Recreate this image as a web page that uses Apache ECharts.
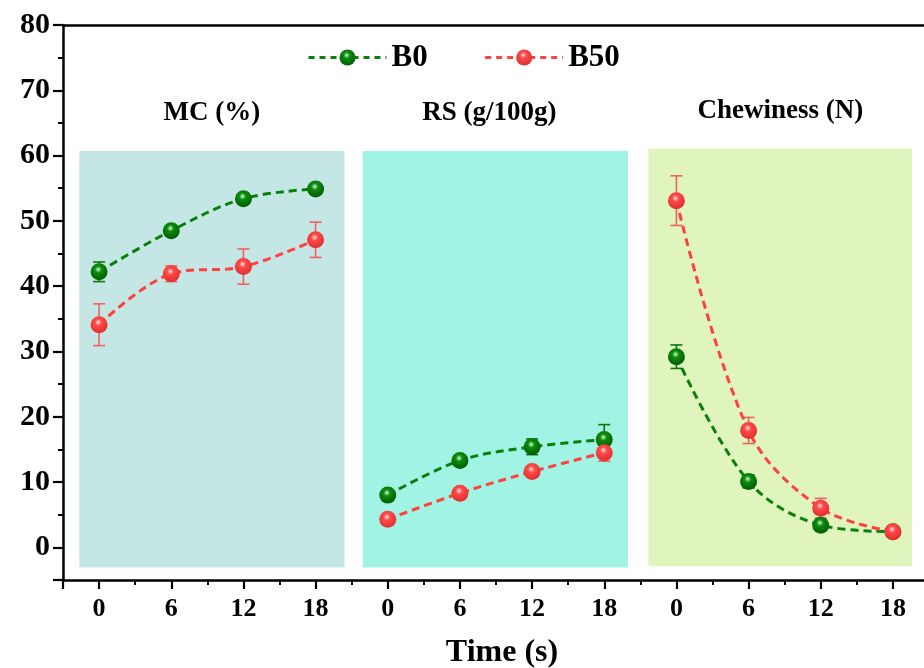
<!DOCTYPE html>
<html>
<head>
<meta charset="utf-8">
<script src="https://cdn.jsdelivr.net/npm/echarts@6/dist/echarts.min.js"></script>
<style>html,body{margin:0;padding:0;background:#fff}#main{width:924px;height:668px}</style>
</head>
<body>
<div id="main"></div>
<script>
// ---- data ----
const times = [0, 6, 12, 18];
const panelNames = ['MC (%)', 'RS (g/100g)', 'Chewiness (N)'];
const panelSpan = 24;
const groups = ['B0', 'B50'];

const b0MC = [42.2, 48.5, 53.4, 54.9];
const b0MCErr = [1.5, 0.6, 0.6, 0.8];
const b50MC = [34.1, 41.9, 43.0, 47.1];
const b50MCErr = [3.2, 1.2, 2.7, 2.7];

const b0RS = [8.0, 13.3, 15.4, 16.5];
const b0RSErr = [0.5, 0.6, 1.2, 2.3];
const b50RS = [4.3, 8.3, 11.6, 14.5];
const b50RSErr = [0.4, 0.5, 0.7, 1.3];

const b0Chew = [29.2, 10.1, 3.4, 2.4];
const b0ChewErr = [1.8, 1.0, 0.5, 0.3];
const b50Chew = [53.1, 17.9, 6.0, 2.4];
const b50ChewErr = [3.8, 2.0, 1.5, 0.4];

const yTicks = [0, 10, 20, 30, 40, 50, 60, 70, 80];

// ---- build ----
const FONT = '"Liberation Serif", "Times New Roman", serif';
const colors = {
  B0: { line: '#0a7f0a', bar: '#0b760b', light: '#d4f7d4', mid: '#0c8c0c', dark: '#035a03' },
  B50: { line: '#ff4040', bar: '#f0605e', light: '#ffe6e6', mid: '#ff4a4a', dark: '#e02c2c' }
};
const valuesByGroup = {
  B0: [[b0MC, b0MCErr], [b0RS, b0RSErr], [b0Chew, b0ChewErr]],
  B50: [[b50MC, b50MCErr], [b50RS, b50RSErr], [b50Chew, b50ChewErr]]
};
function sphere(c) {
  return {
    type: 'radial', x: 0.45, y: 0.36, r: 0.65,
    colorStops: [
      { offset: 0, color: c.light },
      { offset: 0.3, color: c.mid },
      { offset: 1, color: c.dark }
    ]
  };
}

const series = [];
// background panels
const panelColors = ['#c4e7e6', '#a1f4e4', '#e0f5be'];
const panelBox = [[-1.64, 20.4, 60.7, -3.1], [-2.08, 19.97, 60.7, -3.1], [-2.33, 19.6, 61.1, -2.9]];
series.push({
  type: 'line', data: [], silent: true, z: 0,
  markArea: {
    silent: true,
    data: panelNames.map((n, p) => [
      {
        name: n,
        xAxis: p * panelSpan + panelBox[p][0], yAxis: panelBox[p][2],
        itemStyle: { color: panelColors[p] },
        label: {
          show: true, position: 'top', distance: 24,
          offset: p === 1 ? [-6, 0] : [0, 0],
          color: '#000', fontFamily: FONT, fontWeight: 'bold', fontSize: 27
        }
      },
      { xAxis: p * panelSpan + panelBox[p][1], yAxis: panelBox[p][3] }
    ])
  }
});

groups.forEach(g => {
  const c = colors[g];
  valuesByGroup[g].forEach((pair, p) => {
    const vals = pair[0], errs = pair[1];
    series.push({
      name: g, type: 'line', z: 3,
      smooth: 0.35,
      symbol: 'circle', symbolSize: 17,
      itemStyle: { color: sphere(c), borderWidth: 0 },
      lineStyle: { color: c.line, width: 3, type: [8, 5] },
      data: times.map((t, i) => [p * panelSpan + t, vals[i]])
    });
    series.push({
      type: 'custom', z: 2, silent: true,
      data: times.map((t, i) => [p * panelSpan + t, vals[i] - errs[i], vals[i] + errs[i]]),
      renderItem: function (params, api) {
        const x = api.value(0);
        const lo = api.coord([x, api.value(1)]);
        const hi = api.coord([x, api.value(2)]);
        const cap = 6;
        const st = { stroke: c.bar, lineWidth: 1.6 };
        return {
          type: 'group',
          children: [
            { type: 'line', shape: { x1: lo[0], y1: lo[1], x2: hi[0], y2: hi[1] }, style: st },
            { type: 'line', shape: { x1: lo[0] - cap, y1: lo[1], x2: lo[0] + cap, y2: lo[1] }, style: st },
            { type: 'line', shape: { x1: hi[0] - cap, y1: hi[1], x2: hi[0] + cap, y2: hi[1] }, style: st }
          ]
        };
      }
    });
  });
});

const chart = echarts.init(document.getElementById('main'), null, { renderer: 'canvas' });
chart.setOption({
  animation: false,
  backgroundColor: '#fff',
  grid: { left: 63, top: 25, right: -5, bottom: 88, containLabel: false, outerBoundsMode: 'none' },
  legend: {
    data: groups.map(g => ({ name: g, itemStyle: { color: sphere(colors[g]) }, lineStyle: { color: colors[g].line, type: [6, 5], width: 3 } })),
    top: 37, left: 302, itemGap: 56, itemWidth: 78, itemHeight: 20,
    textStyle: { fontFamily: FONT, fontWeight: 'bold', fontSize: 31, color: '#000' }
  },
  xAxis: [{
    type: 'value', min: -3, max: 69, minInterval: 6, maxInterval: 6, splitNumber: 12,
    name: 'Time (s)', nameLocation: 'middle', nameGap: 57,
    nameTextStyle: { fontFamily: FONT, fontWeight: 'bold', fontSize: 32, color: '#000', padding: [0, 0, 0, 12] },
    axisLine: { onZero: false, lineStyle: { color: '#000', width: 2.5 } },
    axisTick: { length: 9, lineStyle: { color: '#000', width: 2.2 } },
    minorTick: { show: true, splitNumber: 2, length: 5, lineStyle: { color: '#000', width: 2 } },
    splitLine: { show: false },
    axisLabel: {
      margin: 16, fontFamily: FONT, fontWeight: 'bold', fontSize: 26, color: '#000',
      formatter: v => (v < 0 || v > 66) ? '' : String(((v % panelSpan) + panelSpan) % panelSpan),
      showMinLabel: true, showMaxLabel: true
    }
  }, {
    type: 'value', position: 'top', min: -3, max: 69,
    axisLine: { show: true, onZero: false, lineStyle: { color: '#000', width: 2.5 } },
    axisTick: { show: false }, axisLabel: { show: false }, splitLine: { show: false }
  }],
  yAxis: {
    type: 'value', min: -5, max: 80, minInterval: 10, maxInterval: 10, splitNumber: 8,
    axisLine: { show: true, onZero: false, lineStyle: { color: '#000', width: 2.5 } },
    axisTick: { length: 10, lineStyle: { color: '#000', width: 2.2 } },
    minorTick: { show: true, splitNumber: 2, length: 5, lineStyle: { color: '#000', width: 2 } },
    splitLine: { show: false },
    axisLabel: {
      margin: 13, fontFamily: FONT, fontWeight: 'bold', fontSize: 30, color: '#000',
      formatter: v => yTicks.indexOf(v) >= 0 ? String(v) : ''
    }
  },
  series: series
});
</script>
</body>
</html>
